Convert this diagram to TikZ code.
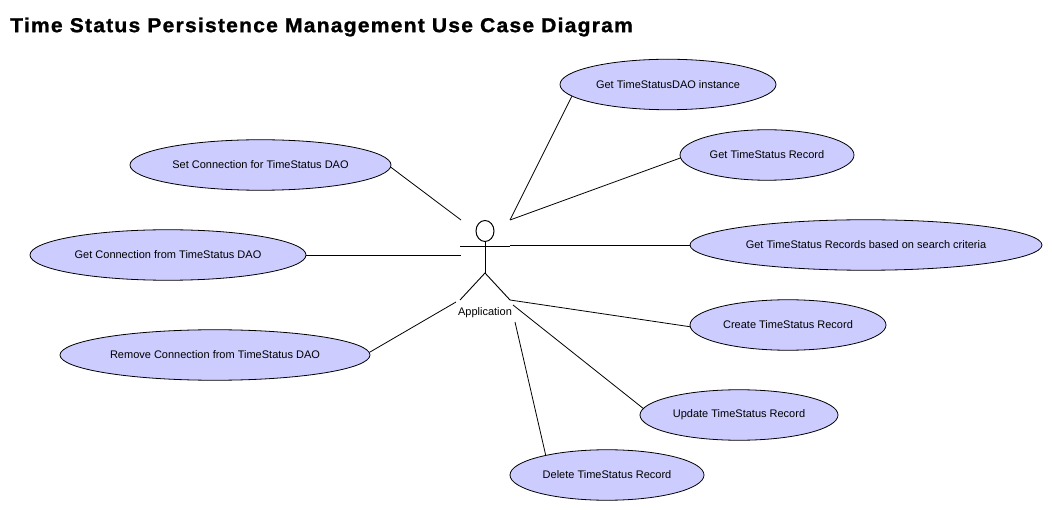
\documentclass[tikz,border=0pt]{standalone}
\usepackage{fontspec}
\setmainfont{Liberation Sans}
\newfontfamily\titlefont[LetterSpace=6,FakeStretch=1.05,FakeBold=1.2]{Liberation Sans Bold}
\usetikzlibrary{shapes.geometric}
\definecolor{usecasefill}{RGB}{204,204,255}
\begin{document}
\begin{tikzpicture}[x=1pt,y=-1pt]
      \useasboundingbox (0,0) rectangle (1052,510);
      \node[anchor=west,inner sep=0pt,font=\titlefont\fontsize{20.1}{22}\selectfont] (title) at (10,27) {Time Status Persistence Management Use Case Diagram};
      \begin{scope}[every node/.style={ellipse,draw=black,fill=usecasefill,line width=0.8pt,inner sep=0pt,minimum height=50.5pt,font=\fontsize{11}{12}\selectfont}]
        \node[minimum width=216pt] (getdao) at (668,84.5) {Get TimeStatusDAO instance};
        \node[minimum width=174pt] (getrecord) at (767,155) {Get TimeStatus Record};
        \node[minimum width=352pt] (getsearch) at (866,245) {Get TimeStatus Records based on search criteria};
        \node[minimum width=196pt] (create) at (788,325) {Create TimeStatus Record};
        \node[minimum width=198pt] (update) at (739,415) {Update TimeStatus Record};
        \node[minimum width=194pt] (delete) at (607,475) {Delete TimeStatus Record};
        \node[minimum width=261pt] (setconn) at (260.5,165) {Set Connection for TimeStatus DAO};
        \node[minimum width=276pt] (getconn) at (168,255) {Get Connection from TimeStatus DAO};
        \node[minimum width=310pt] (removeconn) at (215,355) {Remove Connection from TimeStatus DAO};
      \end{scope}
      % actor
      \node[ellipse,draw=black,line width=1pt,inner sep=0pt,minimum width=18pt,minimum height=21pt] (head) at (485,231) {};
      \coordinate (hip) at (485,273);
      \coordinate (armleft) at (460,246.5);
      \coordinate (armright) at (510,246.5);
      \coordinate (footleft) at (460,300);
      \coordinate (footright) at (510,300);
      \node[inner sep=0pt,font=\fontsize{11}{12}\selectfont] (actor) at (485,313) {Application};
      \draw[line width=0.9pt] (head) -- (hip);
      \draw[line width=0.9pt] (armleft) -- (armright);
      \draw[line width=0.9pt] (footleft) -- (hip) -- (footright);
      % free ends near the actor
      \coordinate (endset) at (461,220);
      \coordinate (endget) at (461,255);
      \coordinate (endremove) at (456,302);
      \coordinate (endupper) at (510,220);
      \coordinate (endsearch) at (510,245);
      \coordinate (endcreate) at (510,300);
      \coordinate (endupdate) at (513,305);
      \coordinate (enddelete) at (515,322);
      \begin{scope}[every edge/.style={draw=black,line width=0.8pt}]
        \path (getdao.187) edge (endupper);
        \path (getrecord.182) edge (endupper);
        \path (getsearch) edge (endsearch);
        \path (create.181) edge (endcreate);
        \path (update.176) edge (endupdate);
        \path (delete.162) edge (enddelete);
        \path (setconn.-1) edge (endset);
        \path (getconn) edge (endget);
        \path (removeconn.1) edge (endremove);
      \end{scope}
    \end{tikzpicture}
\end{document}
